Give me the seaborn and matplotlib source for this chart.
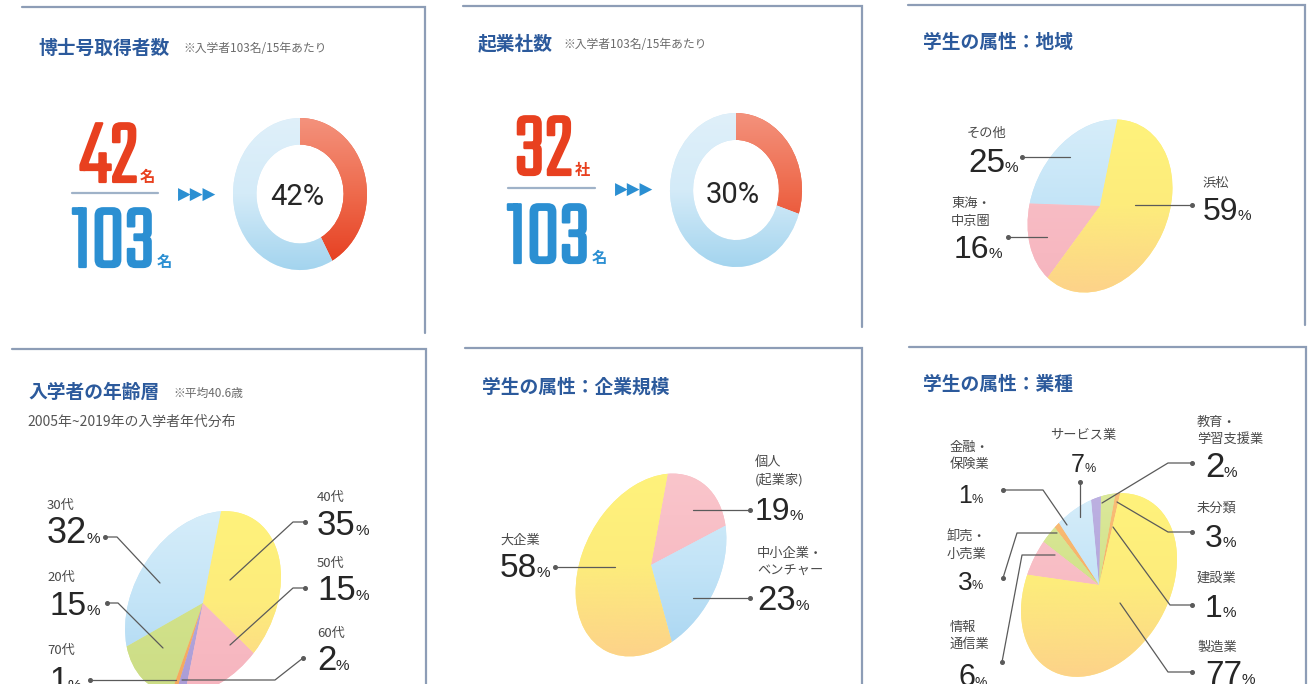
import numpy as np
import matplotlib
matplotlib.use("Agg")
import matplotlib.pyplot as plt
import matplotlib.patheffects as pe
from matplotlib.transforms import Affine2D
from matplotlib.colors import LinearSegmentedColormap
import seaborn as sns

# ---------------- data ----------------
phd_count, phd_total, phd_rate = 42, 103, 42
startup_count, startup_total, startup_rate = 32, 103, 30

region_labels = ["その他", "東海・\n中京圏", "浜松"]
region_values = [25, 16, 59]

age_labels = ["30代", "20代", "70代", "60代", "50代", "40代"]
age_values = [32, 15, 1, 2, 15, 35]

size_labels = ["個人\n(起業家)", "中小企業・\nベンチャー", "大企業"]
size_values = [19, 23, 58]

industry_labels = ["建設業", "未分類", "教育・\n学習支援業", "サービス業",
                   "金融・\n保険業", "卸売・\n小売業", "情報\n通信業", "製造業"]
industry_values = [1, 3, 2, 7, 1, 3, 6, 77]

# ---------------- style ----------------
sns.set_theme(style="white")
plt.rcParams["font.family"] = ["Noto Sans CJK JP", "DejaVu Sans"]

W, H = 1314, 684
TITLE = "#2c5a9c"
NOTE = "#6b6b6b"
INK = "#262626"
LABEL = "#4a4a4a"
LEADER = "#5a5a5a"
FRAME = "#8d9db6"
RED = "#e8401f"
BLUE_NUM = "#2b8fd2"
NUMFONT = ["Liberation Sans", "DejaVu Sans"]
BIGFONT = ["Teko", "Sofia Sans Extra Condensed", "Saira ExtraCondensed",
           "Liberation Sans Narrow", "DejaVu Sans"]

YELLOW = ["#fff37b", "#fdec7c", "#fdd08b"]
BLUE = ["#d8eefa", "#c3e4f7", "#a6d4f1"]
PINK = ["#fac6cc", "#f8bcc4", "#f6b4be"]
GREEN = ["#dce99c", "#d2e28a", "#cbdc86"]
PURPLE = ["#beb2e2", "#b3a6dc", "#a99bd6"]
ORANGE = ["#f9c07a", "#f7b068", "#f5a75e"]
RING_RED = ["#f4947f", "#ee6a4c", "#e5391b"]
RING_BLUE = ["#e0f0fa", "#d4ebf8", "#a1d3ee"]

GRAD = np.linspace(0, 1, 256).reshape(-1, 1)

fig = plt.figure(figsize=(W / 100, H / 100), dpi=100)
ax = fig.add_axes([0, 0, 1, 1])


def unit_angle(screen_deg, a, b, rot):
    """Angle on the unit pie whose image lies in the given screen direction."""
    t = np.radians(screen_deg - rot)
    return np.degrees(np.arctan2(np.sin(t) / b, np.cos(t) / a))


def shaded_pie(values, colors, center, a, b, rot, first_edge, counterclock=True, width=None):
    cx, cy = center
    wp = dict(linewidth=0)
    if width is not None:
        wp["width"] = width
    wedges, _ = ax.pie(values, startangle=unit_angle(first_edge, a, b, rot),
                       counterclock=counterclock, radius=1, center=(0, 0),
                       wedgeprops=wp)
    tr = Affine2D().scale(a, b).rotate_deg(rot).scale(1, -1).translate(cx, cy) + ax.transData
    R = max(a, b) + 4
    for w, cols in zip(wedges, colors):
        w.set_transform(tr)
        w.set_facecolor(cols[1])
        im = ax.imshow(GRAD, cmap=LinearSegmentedColormap.from_list("g", cols),
                       extent=(cx - R, cx + R, cy + R, cy - R), aspect="auto",
                       interpolation="bicubic", zorder=2)
        im.set_clip_path(w)
    return wedges


def frame(x0, x1, y_top, y_bottom):
    ax.plot([x0, x1, x1], [y_top, y_top, y_bottom], color=FRAME, lw=1.6,
            solid_joinstyle="miter", zorder=1)


def title(x, y, text, note=None, note_dx=0):
    ax.text(x, y, text, fontsize=13.5, fontweight="bold", color=TITLE,
            va="center", ha="left")
    if note:
        ax.text(x + note_dx, y + 1, note, fontsize=8.5, color=NOTE, va="center", ha="left")


def number_with_pct(nx, nbase, value, fs, pfs, ha="left"):
    t = ax.text(nx, nbase, str(value), fontsize=fs, family=NUMFONT, color=INK,
                ha=ha, va="baseline")
    ax.annotate("%", xy=(1, 0), xycoords=t, xytext=(-0.5, 0.21 * fs),
                textcoords="offset points", fontsize=pfs, family=NUMFONT,
                color=INK, ha="left", va="baseline")


def leader_line(points):
    xs, ys = zip(*points)
    ax.plot(xs, ys, color=LEADER, lw=0.9, zorder=4)
    ax.plot(xs[0], ys[0], "o", color=LEADER, ms=2.6, zorder=4)


def pct_label(lines, lx, ly, value, nx, nbase, fs, pfs, leader, lgap=18):
    for i, ln in enumerate(lines.split("\n")):
        ax.text(lx, ly + i * lgap, ln, fontsize=9.5, color=LABEL, ha="left", va="center")
    number_with_pct(nx, nbase, value, fs, pfs)
    leader_line(leader)


def big_number(x, baseline, value, unit, color):
    t = ax.text(x, baseline, str(value), fontsize=68, family=BIGFONT, color=color,
                va="baseline", ha="left",
                path_effects=[pe.withStroke(linewidth=1.6, foreground=color)])
    ax.annotate(unit, xy=(1, baseline), xycoords=(t, "data"), xytext=(1, 0),
                textcoords="offset points", fontsize=11, fontweight="bold",
                color=color, va="baseline", ha="left")


def fraction_block(x, top_num, top_unit, bottom_num, bottom_unit, y_top, y_line, y_bottom, line_x):
    big_number(x, y_top, top_num, top_unit, RED)
    ax.plot(line_x, [y_line, y_line], color="#9fb2c8", lw=1.6)
    big_number(x - 9, y_bottom, bottom_num, bottom_unit, BLUE_NUM)


# ---------------- panel frames ----------------
frame(22, 425, 7, 333)
frame(463, 862, 6, 327)
frame(908, 1305, 5, 325)
frame(12, 426, 349, 684)
frame(465, 862, 348, 684)
frame(909, 1306, 347, 684)

# ---------------- 博士号取得者数 ----------------
title(38, 48, "博士号取得者数", "※入学者103名/15年あたり", 145)
fraction_block(80, phd_count, "名", phd_total, "名", 182, 193, 267, [72, 158])
ax.text(197, 195, "▶▶▶", family=["DejaVu Sans"], fontsize=12, color=BLUE_NUM,
        ha="center", va="center")
shaded_pie([phd_rate, 100 - phd_rate], [RING_RED, RING_BLUE], (300, 194), 67, 76, 0,
           90, counterclock=False, width=0.35)
ax.text(297, 197, f"{phd_rate}%", family=["Roboto", "DejaVu Sans"], fontsize=21,
        color=INK, ha="center", va="center")

# ---------------- 起業社数 ----------------
title(478, 44, "起業社数", "※入学者103名/15年あたり", 85)
fraction_block(515, startup_count, "社", startup_total, "名", 175, 188, 263, [508, 595])
ax.text(634, 190, "▶▶▶", family=["DejaVu Sans"], fontsize=12, color=BLUE_NUM,
        ha="center", va="center")
shaded_pie([startup_rate, 100 - startup_rate], [RING_RED, RING_BLUE], (736, 190), 66, 77, 0,
           90, counterclock=False, width=0.35)
ax.text(733, 195, f"{startup_rate}%", family=["Roboto", "DejaVu Sans"], fontsize=21,
        color=INK, ha="center", va="center")

# ---------------- 学生の属性：地域 ----------------
title(923, 43, "学生の属性：地域")
shaded_pie(region_values, [BLUE, PINK, YELLOW], (1100, 206), 90, 68, 65, 78.6)
region_layout = [
    dict(lx=967, ly=133, nx=968, nb=172, fs=24, leader=[(1022, 157), (1070, 157)]),
    dict(lx=951, ly=203, nx=954, nb=258, fs=23, leader=[(1008, 237), (1047, 237)]),
    dict(lx=1203, ly=183, nx=1203, nb=220, fs=23, leader=[(1192, 205), (1135, 205)]),
]
for lab, val, L in zip(region_labels, region_values, region_layout):
    pct_label(lab, L["lx"], L["ly"], val, L["nx"], L["nb"], L["fs"], 11, L["leader"])

# ---------------- 入学者の年齢層 ----------------
title(28, 392, "入学者の年齢層", "※平均40.6歳", 145)
ax.text(27, 422, "2005年~2019年の入学者年代分布", fontsize=10, color="#555555",
        va="center", ha="left")
shaded_pie(age_values, [BLUE, GREEN, ORANGE, PURPLE, PINK, YELLOW], (203, 603), 98, 70, 60, 78.8)
age_layout = [
    dict(lx=47, ly=505, nx=47, nb=543, fs=26, leader=[(105, 537), (117, 537), (160, 583)]),
    dict(lx=47, ly=577, nx=50, nb=615, fs=24, leader=[(107, 603), (118, 603), (163, 648)]),
    dict(lx=47, ly=650, nx=50, nb=690, fs=24, leader=[(90, 680), (176, 680)]),
    dict(lx=317, ly=633, nx=317, nb=670, fs=25, leader=[(303, 658), (275, 680), (182, 680)]),
    dict(lx=317, ly=563, nx=317, nb=600, fs=25, leader=[(305, 588), (293, 588), (230, 645)]),
    dict(lx=317, ly=497, nx=317, nb=535, fs=25, leader=[(305, 522), (293, 522), (230, 580)]),
]
for lab, val, L in zip(age_labels, age_values, age_layout):
    pct_label(lab, L["lx"], L["ly"], val, L["nx"], L["nb"], L["fs"], 11, L["leader"])

# ---------------- 学生の属性：企業規模 ----------------
title(482, 387, "学生の属性：企業規模")
shaded_pie(size_values, [PINK, BLUE, YELLOW], (651, 565), 97, 68, 62, 79.6, counterclock=False)
size_layout = [
    dict(lx=755, ly=462, nx=755, nb=520, fs=23, leader=[(750, 510), (693, 510)]),
    dict(lx=757, ly=553, nx=757, nb=610, fs=25, leader=[(750, 598), (693, 598)]),
    dict(lx=500, ly=540, nx=500, nb=577, fs=24, leader=[(555, 567), (615, 567)]),
]
for lab, val, L in zip(size_labels, size_values, size_layout):
    pct_label(lab, L["lx"], L["ly"], val, L["nx"], L["nb"], L["fs"], 11, L["leader"])

# ---------------- 学生の属性：業種 ----------------
title(923, 385, "学生の属性：業種")
shaded_pie(industry_values, [ORANGE, GREEN, PURPLE, BLUE, ORANGE, GREEN, PINK, YELLOW],
           (1099, 585), 98, 70, 60, 77)
industry_layout = [
    dict(lx=1197, ly=578, nx=1205, nb=617, fs=23, pfs=11, leader=[(1192, 605), (1170, 605), (1113, 527)]),
    dict(lx=1197, ly=508, nx=1205, nb=547, fs=23, pfs=11, leader=[(1192, 532), (1168, 532), (1117, 502)]),
    dict(lx=1197, ly=422, nx=1205, nb=477, fs=25, pfs=11, leader=[(1192, 463), (1168, 463), (1102, 503)]),
    dict(lx=1083, ly=435, nx=1078, nb=472, fs=18, pfs=9, leader=[(1080, 482), (1080, 517)]),
    dict(lx=950, ly=447, nx=958, nb=503, fs=18, pfs=9, leader=[(1003, 490), (1043, 490), (1067, 525)]),
    dict(lx=947, ly=537, nx=958, nb=590, fs=19, pfs=9, leader=[(1003, 578), (1017, 533), (1057, 533)]),
    dict(lx=950, ly=627, nx=958, nb=686, fs=22, pfs=10, leader=[(1002, 662), (1022, 555), (1055, 555)]),
    dict(lx=1197, ly=647, nx=1205, nb=684, fs=24, pfs=11, leader=[(1192, 672), (1168, 672), (1120, 603)]),
]
for lab, val, L in zip(industry_labels, industry_values, industry_layout):
    if lab == "サービス業":
        # centred label above the slice
        ax.text(L["lx"], L["ly"], lab, fontsize=9.5, color=LABEL, ha="center", va="center")
        number_with_pct(L["nx"], L["nb"], val, L["fs"], L["pfs"], ha="center")
        leader_line(L["leader"])
    else:
        pct_label(lab, L["lx"], L["ly"], val, L["nx"], L["nb"], L["fs"], L["pfs"],
                  L["leader"], lgap=17)

ax.set_xlim(0, W)
ax.set_ylim(H, 0)
ax.set_aspect("auto")
ax.axis("off")
fig.savefig("out.png", dpi=100)
